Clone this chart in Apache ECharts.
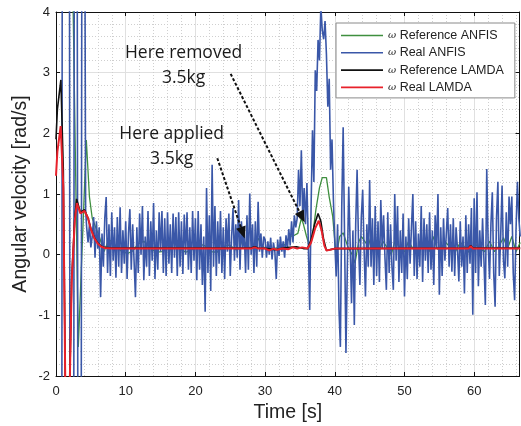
<!DOCTYPE html>
<html>
<head>
<meta charset="utf-8">
<script src="https://cdn.jsdelivr.net/npm/echarts@6/dist/echarts.min.js"></script>
<style>html,body{margin:0;padding:0;background:#fff}#c{width:521px;height:426px}</style>
</head>
<body>
<div id="c"></div>
<script>
// ---------- DATA ----------
const seriesNames = ['Reference ANFIS', 'Real ANFIS', 'Reference LAMDA', 'Real LAMDA'];
const xTicks = [0, 10, 20, 30, 40, 50, 60];
const yTicks = [-2, -1, 0, 1, 2, 3, 4];

// ω Reference ANFIS  [time s, rad/s]
const refAnfis = [[0,6],[2.2,6],[3.2,-1.52],[4.35,1.89],[4.8,0.95],[5.2,0.6],[5.7,0.45],[6.2,0.3],[6.9,0.05],
  [7.4,0.2],[8.0,0.24],[8.7,0.12],[9.5,0.05],[10.3,0.02],[11.0,0.06],[11.8,0.18],[12.6,0.22],[13.5,0.12],[14.3,0.04],
  [15.2,0.05],[16.0,0.16],[16.9,0.2],[17.8,0.1],[18.6,0.04],[19.5,0.08],[20.4,0.18],[21.3,0.15],[22.2,0.05],[23.1,0.04],
  [24.0,0.13],[24.9,0.16],[25.8,0.08],[26.3,0.1],[26.8,0.28],[27.3,0.15],[28.0,0.1],[28.6,0.2],[29.0,0.27],[29.5,0.15],
  [30.3,0.08],[31.2,0.1],[32.0,0.12],[32.6,0.14],[33.0,0.19],[33.6,0.3],[34.2,0.32],[34.7,0.35],[35.2,0.6],[35.5,0.5],
  [35.9,0.32],[36.4,0.12],[36.8,0.3],[37.3,0.75],[37.8,1.1],[38.2,1.27],[38.8,1.27],[39.2,0.95],[39.7,0.63],[40.2,-0.03],
  [40.7,0.3],[41.2,0.36],[41.9,0.12],[42.5,0.0],[42.9,-0.14],[43.4,0.2],[43.8,0.3],[44.3,0.22],[44.8,0.14],[45.2,0.3],
  [45.7,0.12],[46.3,0.05],[46.9,0.22],[47.5,0.12],[48.1,0.0],[48.7,0.25],[49.3,0.1],[50.0,0.05],[50.6,0.22],[51.2,0.1],
  [51.9,0.0],[52.5,0.15],[53.1,0.2],[53.6,0.05],[54.1,0.3],[54.7,0.1],[55.3,0.05],[55.9,0.2],[56.6,0.12],[57.3,0.05],
  [58.0,0.2],[58.7,0.12],[59.4,0.02],[60.1,0.18],[60.8,0.1],[61.5,0.05],[62.2,0.22],[62.9,0.05],[63.6,0.15],[64.2,0.28],
  [64.8,0.1],[65.4,0.3],[66.0,0.05],[66.6,0.2]];

// ω Real ANFIS: start-up transient [time, value]
const realAnfisStart = [[0,-9],[0.8,-9],[0.92,9],[1.9,9],[2.05,-9],[2.5,-9],[2.65,9],[3.0,9],[3.2,-9],
  [3.55,-9],[3.75,9],[4.05,9],[4.25,0.73]];
// ω Real ANFIS: samples every 0.2 s starting at 4.4 s
const realAnfisT0 = 4.4, realAnfisDt = 0.2;
const realAnfisVals = [
  0.45,0.2,0.5,0.12,0.3,0.62,-0.05,0.55,0.1,0.45,
  -0.7,0.35,-0.2,0.6,0.95,-0.3,0.5,-0.35,0.7,-0.1,
  0.45,-0.38,0.62,-0.2,0.78,-0.3,0.4,-0.15,0.55,-0.4,
  0.35,0.75,-0.25,0.5,-0.1,-0.7,0.45,-0.3,0.68,0.0,
  0.8,-0.42,0.3,-0.2,0.72,-0.35,0.55,-0.1,0.85,-0.4,
  0.4,-0.25,0.7,0.05,0.72,-0.3,0.6,-0.35,0.7,-0.15,
  0.5,-0.3,0.68,-0.05,0.62,-0.35,0.7,-0.2,0.55,-0.32,
  0.66,0.0,0.7,-0.25,0.45,-0.3,0.72,-0.1,0.6,-0.42,
  0.72,-0.25,0.5,-0.5,0.3,-0.94,1.1,-0.3,0.65,-0.6,
  1.48,-0.2,0.8,-0.35,0.55,-0.15,0.72,-0.3,0.45,-0.4,
  0.6,0.05,0.68,-0.35,0.3,0.77,-0.1,0.5,-0.05,0.9,
  -0.25,0.55,0.1,0.4,-0.3,0.65,-0.25,1.01,0.0,0.5,
  -0.3,0.55,-0.2,0.87,0.05,0.35,-0.05,0.3,0.25,-0.05,
  0.22,0.0,0.28,-0.08,0.2,0.05,-0.4,0.25,-0.02,0.3,
  0.05,0.22,-0.05,0.32,0.1,0.42,0.15,0.55,0.2,0.65,
  0.45,0.6,1.4,0.8,1.72,0.6,1.1,0.5,1.18,0.2,
  -0.91,0.8,2.05,1.2,3.04,2.7,3.54,3.2,4.1,3.7,
  3.55,3.85,3.3,2.44,2.9,1.4,1.9,0.9,0.2,-0.36,
  0.5,-0.9,-1.52,0.8,2.1,0.3,-1.62,-0.2,1.12,0.2,
  -0.8,0.4,-1.16,0.5,1.4,0.2,-0.5,0.6,1.07,0.1,
  -0.69,0.5,-0.2,1.23,-0.2,0.6,-0.5,0.8,-0.35,0.55,
  -0.45,0.9,0.1,0.65,-0.06,-0.58,0.7,-0.3,0.5,-0.2,
  -0.58,1.0,-0.1,0.8,-0.45,0.4,-0.3,0.68,-0.69,0.3,
  -0.4,0.6,-0.15,0.45,1.0,-0.35,0.55,-0.4,0.35,-0.2,
  0.8,-0.45,0.6,-0.1,0.5,-0.3,0.7,-0.25,0.4,-0.5,
  0.65,0.1,1.0,-0.66,0.45,-0.35,0.6,-0.1,0.35,0.77,
  -0.2,0.5,-0.28,0.6,-0.35,0.45,0.1,-0.44,0.55,-0.2,
  0.3,-0.64,0.65,-0.3,0.5,-0.15,0.77,-0.99,0.93,-0.3,
  1.03,-0.52,0.4,-0.2,0.6,-0.1,-0.83,1.41,0.2,-0.4,
  0.5,1.03,-0.3,-0.86,0.6,1.2,-0.35,0.3,1.14,-0.1,
  -0.39,0.7,-0.2,0.96,0.5,0.96,-0.3,-0.75,0.4,1.2,
  0.6,0.3];

// ω Reference LAMDA
const refLamda = [[0,1.9],[0.2,2.4],[0.7,2.88],[1.05,1.4],[1.45,-3.5],[1.75,-3.5],[2.25,-0.4],[2.7,0.62],[2.95,0.92],[3.5,0.7],
  [4.1,0.74],[4.6,0.6],[5.0,0.43],[5.5,0.28],[6.0,0.19],[6.5,0.14],[7.0,0.12],[8.0,0.11],[28.0,0.11],[28.5,0.13],
  [29.0,0.11],[30.5,0.1],[31.5,0.08],[32.5,0.11],[33.5,0.12],[34.5,0.13],[35.5,0.1],[36.1,0.1],[36.6,0.25],[37.1,0.5],
  [37.6,0.68],[38.0,0.55],[38.4,0.25],[38.8,0.07],[39.3,0.08],[40,0.1],[59.2,0.11],[59.5,0.15],[59.8,0.11],[66.6,0.11]];

// ω Real LAMDA
const realLamda = [[0,1.3],[0.2,1.7],[0.67,2.12],[1.05,1.1],[1.45,-3.5],[1.75,-3.5],[2.25,-0.45],[2.7,0.57],[3.0,0.85],[3.5,0.68],
  [4.1,0.72],[4.6,0.6],[5.0,0.42],[5.5,0.27],[6.0,0.18],[6.5,0.13],[7.0,0.11],[8.0,0.1],[28.0,0.1],[28.5,0.12],
  [29.0,0.1],[30.0,0.1],[30.6,0.07],[31.2,0.1],[31.7,0.08],[32.5,0.1],[33.3,0.09],[34.0,0.12],[34.6,0.1],[35.3,0.12],
  [36.1,0.1],[36.6,0.2],[37.2,0.44],[37.7,0.56],[38.1,0.4],[38.5,0.15],[38.8,0.07],[39.3,0.08],[40,0.1],[59.2,0.1],
  [59.5,0.14],[59.8,0.1],[66.6,0.1]];

// annotations: text lines and arrows (data coordinates)
const notes = [
  {lines: ['Here removed', '3.5kg'], at: [18.3, 3.11], from: [25.06, 2.98], to: [35.3, 0.62]},
  {lines: ['Here applied', '3.5kg'], at: [16.6, 1.776], from: [23.14, 1.59], to: [26.8, 0.36]}
];

// ---------- CHART ----------
const realAnfis = realAnfisStart.concat(
  realAnfisVals.map((v, i) => [Math.round((realAnfisT0 + i * realAnfisDt) * 100) / 100, v]));

const colors = ['#3f8f3f', '#3a57a8', '#111111', '#e8212b'];
const widths = [1.3, 1.6, 1.6, 2];
const dataSets = [refAnfis, realAnfis, refLamda, realLamda];

const chart = echarts.init(document.getElementById('c'), null, {renderer: 'canvas'});
const axisFont = {fontFamily: 'Liberation Sans', fontSize: 13, color: '#222'};

const series = dataSets.map((d, i) => ({
  name: seriesNames[i], type: 'line', data: d, symbol: 'none', showSymbol: false,
  lineStyle: {color: colors[i], width: widths[i]}, itemStyle: {color: colors[i]},
  clip: true, animation: false, z: 2 + i
}));
series.push({
  type: 'line', data: [], silent: true, animation: false,
  markLine: {
    silent: true, animation: false, symbol: ['none', 'triangle'], symbolSize: [10, 12],
    label: {show: false},
    lineStyle: {color: '#111', width: 2, type: [3, 2]},
    data: notes.map(n => [{coord: n.from}, {coord: n.to}])
  }
});

const option = {
  backgroundColor: '#fff',
  animation: false,
  grid: {left: 56, top: 12, right: 1.5, bottom: 50, containLabel: false, outerBoundsMode: 'none'},
  legend: {
    data: seriesNames.map(n => ({name: n, icon: 'path://M0,0L42,0L42,1.6L0,1.6Z'})),
    orient: 'vertical', left: 336, top: 23,
    itemWidth: 42, itemHeight: 14, itemGap: 4.3, padding: [6, 11, 4, 5], symbolKeepAspect: true,
    backgroundColor: '#fff', borderColor: '#8a8a8a', borderWidth: 1, borderRadius: 0,
    formatter: n => '{w|ω} ' + n,
    textStyle: {fontFamily: 'Liberation Sans', fontSize: 12.5, color: '#222',
      rich: {w: {fontFamily: 'DejaVu Serif', fontStyle: 'italic', fontSize: 10, color: '#222'}}}
  },
  xAxis: [{
    type: 'value', min: 0, max: 66.5, interval: 10, position: 'bottom',
    name: 'Time [s]', nameLocation: 'middle', nameGap: 27, nameMoveOverlap: false,
    nameTextStyle: {fontFamily: 'Liberation Sans', fontSize: 19.5, color: '#222'},
    axisLine: {show: true, onZero: false, lineStyle: {color: '#111', width: 1}},
    axisTick: {show: true, inside: true, length: 4, lineStyle: {color: '#111'}},
    axisLabel: Object.assign({margin: 9, showMaxLabel: false,
      formatter: v => xTicks.includes(v) ? String(v) : ''}, axisFont),
    splitLine: {show: true, lineStyle: {color: '#e0e0e0', width: 1}},
    minorTick: {show: false, splitNumber: 5},
    minorSplitLine: {show: true, lineStyle: {color: '#cfcfcf', width: 1, type: [1, 2]}}
  }, {
    type: 'value', min: 0, max: 66.5, interval: 10, position: 'top',
    axisLine: {show: true, onZero: false, lineStyle: {color: '#111', width: 1}},
    axisTick: {show: true, inside: true, length: 4, lineStyle: {color: '#111'}},
    axisLabel: {show: false}, splitLine: {show: false}
  }],
  yAxis: [{
    type: 'value', min: -2, max: 4, interval: 1, position: 'left',
    name: 'Angular velocity [rad/s]', nameLocation: 'middle', nameGap: 25, nameMoveOverlap: false,
    nameTextStyle: {fontFamily: 'Liberation Sans', fontSize: 19.5, color: '#222'},
    axisLine: {show: true, onZero: false, lineStyle: {color: '#111', width: 1}},
    axisTick: {show: true, inside: true, length: 4, lineStyle: {color: '#111'}},
    axisLabel: Object.assign({margin: 6, formatter: v => yTicks.includes(v) ? String(v) : ''}, axisFont),
    splitLine: {show: true, lineStyle: {color: '#e0e0e0', width: 1}},
    minorTick: {show: false, splitNumber: 5},
    minorSplitLine: {show: true, lineStyle: {color: '#cfcfcf', width: 1, type: [1, 2]}}
  }, {
    type: 'value', min: -2, max: 4, interval: 1, position: 'right',
    axisLine: {show: true, onZero: false, lineStyle: {color: '#111', width: 1}},
    axisTick: {show: true, inside: true, length: 4, lineStyle: {color: '#111'}},
    axisLabel: {show: false}, splitLine: {show: false}
  }],
  series: series
};
chart.setOption(option);

// annotation texts positioned from data coordinates
const graphics = [];
notes.forEach(n => {
  const p = chart.convertToPixel({gridIndex: 0}, n.at);
  graphics.push({
    type: 'text', x: p[0], y: p[1], z: 20, silent: true,
    style: {text: n.lines.join('\n'), align: 'center', verticalAlign: 'middle',
      font: '17.5px "Open Sans"', lineHeight: 25, fill: '#1a1a1a'}
  });
});
chart.setOption({graphic: graphics});
</script>
</body>
</html>
